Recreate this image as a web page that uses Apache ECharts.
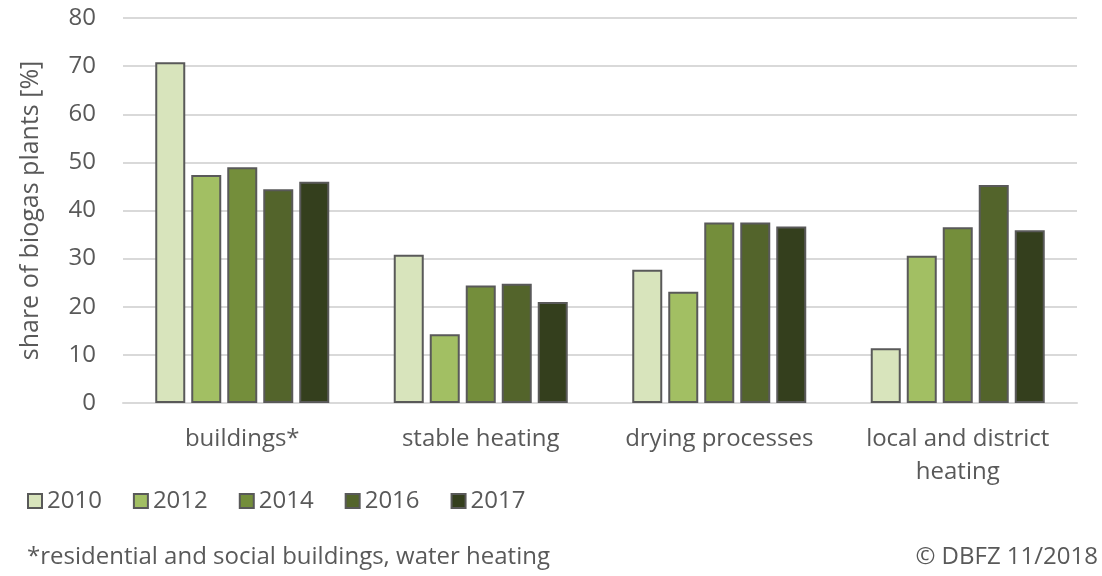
<!DOCTYPE html>
<html><head><meta charset="utf-8">
<script src="https://cdn.jsdelivr.net/npm/echarts@6/dist/echarts.min.js"></script>
<style>html,body{margin:0;padding:0;background:#fff}#c{width:1102px;height:576px}</style>
</head><body><div id="c"></div>
<script>
const categories = ['buildings*', 'stable heating', 'drying processes', 'local and district\nheating'];
const years = ['2010', '2012', '2014', '2016', '2017'];
const v2010 = [70.8, 30.8, 27.7, 11.4];
const v2012 = [47.4, 14.3, 23.1, 30.6];
const v2014 = [49.0, 24.4, 37.5, 36.5];
const v2016 = [44.4, 24.8, 37.5, 45.3];
const v2017 = [46.0, 21.0, 36.7, 35.9];
const yTicks = [0, 10, 20, 30, 40, 50, 60, 70, 80];
const colors = ['#d8e4bc', '#a2bf63', '#748e3b', '#53642b', '#343f1d'];
const values = [v2010, v2012, v2014, v2016, v2017];
const FONT = 'Open Sans';
const chart = echarts.init(document.getElementById('c'));
chart.setOption({
  animation: false,
  textStyle: {fontFamily: FONT},
  grid: {left: 123, right: 25, top: 18, bottom: 173},
  legend: {
    left: 22, top: 484, itemWidth: 14, itemHeight: 14, itemGap: 31,
    icon: 'rect',
    textStyle: {fontSize: 24, color: '#595959', fontFamily: FONT},
    data: years
  },
  xAxis: {
    type: 'category', data: categories,
    axisLine: {lineStyle: {color: '#d9d9d9', width: 2}},
    axisTick: {show: false},
    axisLabel: {interval: 0, hideOverlap: false, fontSize: 24, color: '#595959', margin: 20, lineHeight: 33, fontFamily: FONT}
  },
  yAxis: {
    type: 'value', min: yTicks[0], max: yTicks[yTicks.length - 1], interval: 10,
    name: 'share of biogas plants [%]', nameLocation: 'middle', nameGap: 80,
    nameTextStyle: {fontSize: 25, color: '#595959', fontFamily: FONT},
    axisLabel: {fontSize: 24, color: '#595959', margin: 27, fontFamily: FONT},
    splitLine: {lineStyle: {color: '#d9d9d9', width: 2}},
    axisLine: {show: false}, axisTick: {show: false}
  },
  series: years.map((y, i) => ({
    name: y, type: 'bar', data: values[i],
    barWidth: 30, barGap: '20%',
    itemStyle: {color: colors[i], borderColor: '#595959', borderWidth: 2}
  })),
  graphic: [
    {type: 'text', left: 27, top: 545, style: {text: '*residential and social buildings, water heating', fontSize: 24, fill: '#595959', fontFamily: FONT}},
    {type: 'text', right: 4, top: 545, style: {text: '© DBFZ 11/2018', fontSize: 24, fill: '#595959', fontFamily: FONT}}
  ]
});
</script></body></html>
